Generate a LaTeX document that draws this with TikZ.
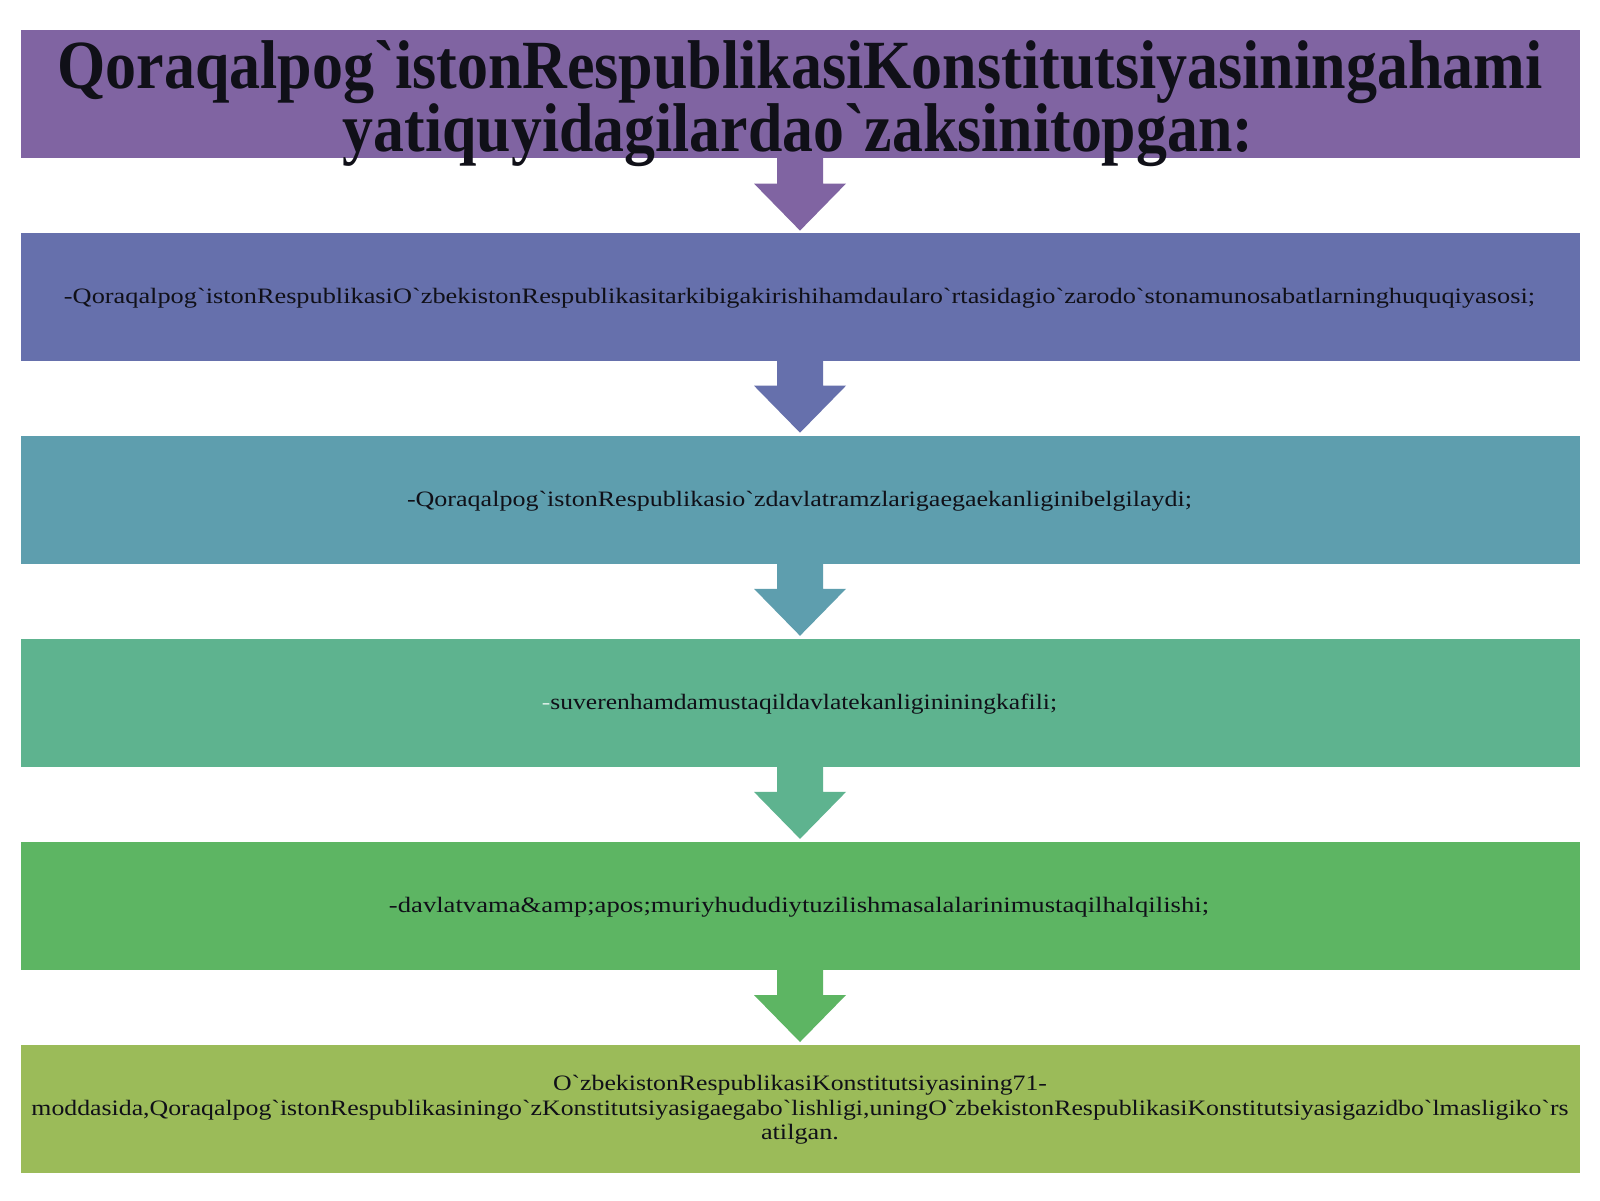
\documentclass[tikz,border=0pt]{standalone}
\usepackage{fontspec}
\usepackage{graphicx}
\usetikzlibrary{calc}
\newfontfamily\titlefont{Liberation Serif}[Ligatures=TeXOff]
\newfontfamily\bodyfont{Liberation Serif}[Ligatures=TeXOff]
\definecolor{cA}{HTML}{8064A2}
\definecolor{cB}{HTML}{6670AC}
\definecolor{cC}{HTML}{5E9EAE}
\definecolor{cD}{HTML}{5EB38F}
\definecolor{cE}{HTML}{5DB563}
\definecolor{cF}{HTML}{9BBB59}
\definecolor{ink}{HTML}{101018}
\tikzset{
  panel/.style={fill=#1, draw=none, minimum width=1559pt, minimum height=127.6pt, inner sep=0pt, anchor=north},
  titletext/.style={anchor=base, inner sep=0pt, text=ink, font=\fontsize{69}{63}\titlefont\bfseries},
  bodytext/.style={anchor=base, inner sep=0pt, text=ink, font=\fontsize{22}{24.5}\bodyfont},
}
\newcommand{\flowarrow}[2]{%
  \fill[#2] ($(#1.south)+(-23,-2)$) -- ($(#1.south)+(-23,25)$) -- ($(#1.south)+(-46,25)$)
    -- ($(#1.south)+(0,72)$) -- ($(#1.south)+(46,25)$) -- ($(#1.south)+(23,25)$)
    -- ($(#1.south)+(23,-2)$) -- cycle;}
\begin{document}
\begin{tikzpicture}[x=1pt,y=-1pt]
\useasboundingbox[fill=white] (0,0) rectangle (1600,1200);
% panels
\node[panel=cA, minimum height=128.6pt] (b1) at (800,29.6) {};
\node[panel=cB] (b2) at (800,232.7) {};
\node[panel=cC] (b3) at (800,435.8) {};
\node[panel=cD] (b4) at (800,638.9) {};
\node[panel=cE] (b5) at (800,842.0) {};
\node[panel=cF] (b6) at (800,1045.1) {};
% arrows
\flowarrow{b1}{cA}
\flowarrow{b2}{cB}
\flowarrow{b3}{cC}
\flowarrow{b4}{cD}
\flowarrow{b5}{cE}
% title
\node[titletext] (t1a) at (800,88.3) {\resizebox{1485pt}{\height}{Qoraqalpog`istonRespublikasiKonstitutsiyasiningahami}};
\node[titletext] (t1b) at (798,151.7) {\resizebox{910pt}{\height}{yatiquyidagilardao`zaksinitopgan:}};
% body texts
\node[bodytext] (t2) at (799.5,303.5) {\resizebox{1471pt}{\height}{-Qoraqalpog`istonRespublikasiO`zbekistonRespublikasitarkibigakirishihamdaularo`rtasidagio`zarodo`stonamunosabatlarninghuquqiyasosi;}};
\node[bodytext] (t3) at (799.5,506.5) {\resizebox{785pt}{\height}{-Qoraqalpog`istonRespublikasio`zdavlatramzlarigaegaekanliginibelgilaydi;}};
\node[bodytext] (t4) at (799.5,709.6) {\resizebox{515pt}{\height}{\textcolor{white!75!cD}{-}suverenhamdamustaqildavlatekanligininingkafili;}};
\node[bodytext] (t5) at (799,912.7) {\resizebox{820pt}{\height}{-davlatvama\&amp;apos;muriyhududiytuzilishmasalalarinimustaqilhalqilishi;}};
\node[bodytext] (t6a) at (800,1090.6) {\resizebox{494pt}{\height}{O`zbekistonRespublikasiKonstitutsiyasining71-}};
\node[bodytext] (t6b) at (800,1115.1) {\resizebox{1537pt}{\height}{moddasida,Qoraqalpog`istonRespublikasiningo`zKonstitutsiyasigaegabo`lishligi,uningO`zbekistonRespublikasiKonstitutsiyasigazidbo`lmasligiko`rs}};
\node[bodytext] (t6c) at (800,1139.6) {\resizebox{78pt}{\height}{atilgan.}};
\end{tikzpicture}
\end{document}
